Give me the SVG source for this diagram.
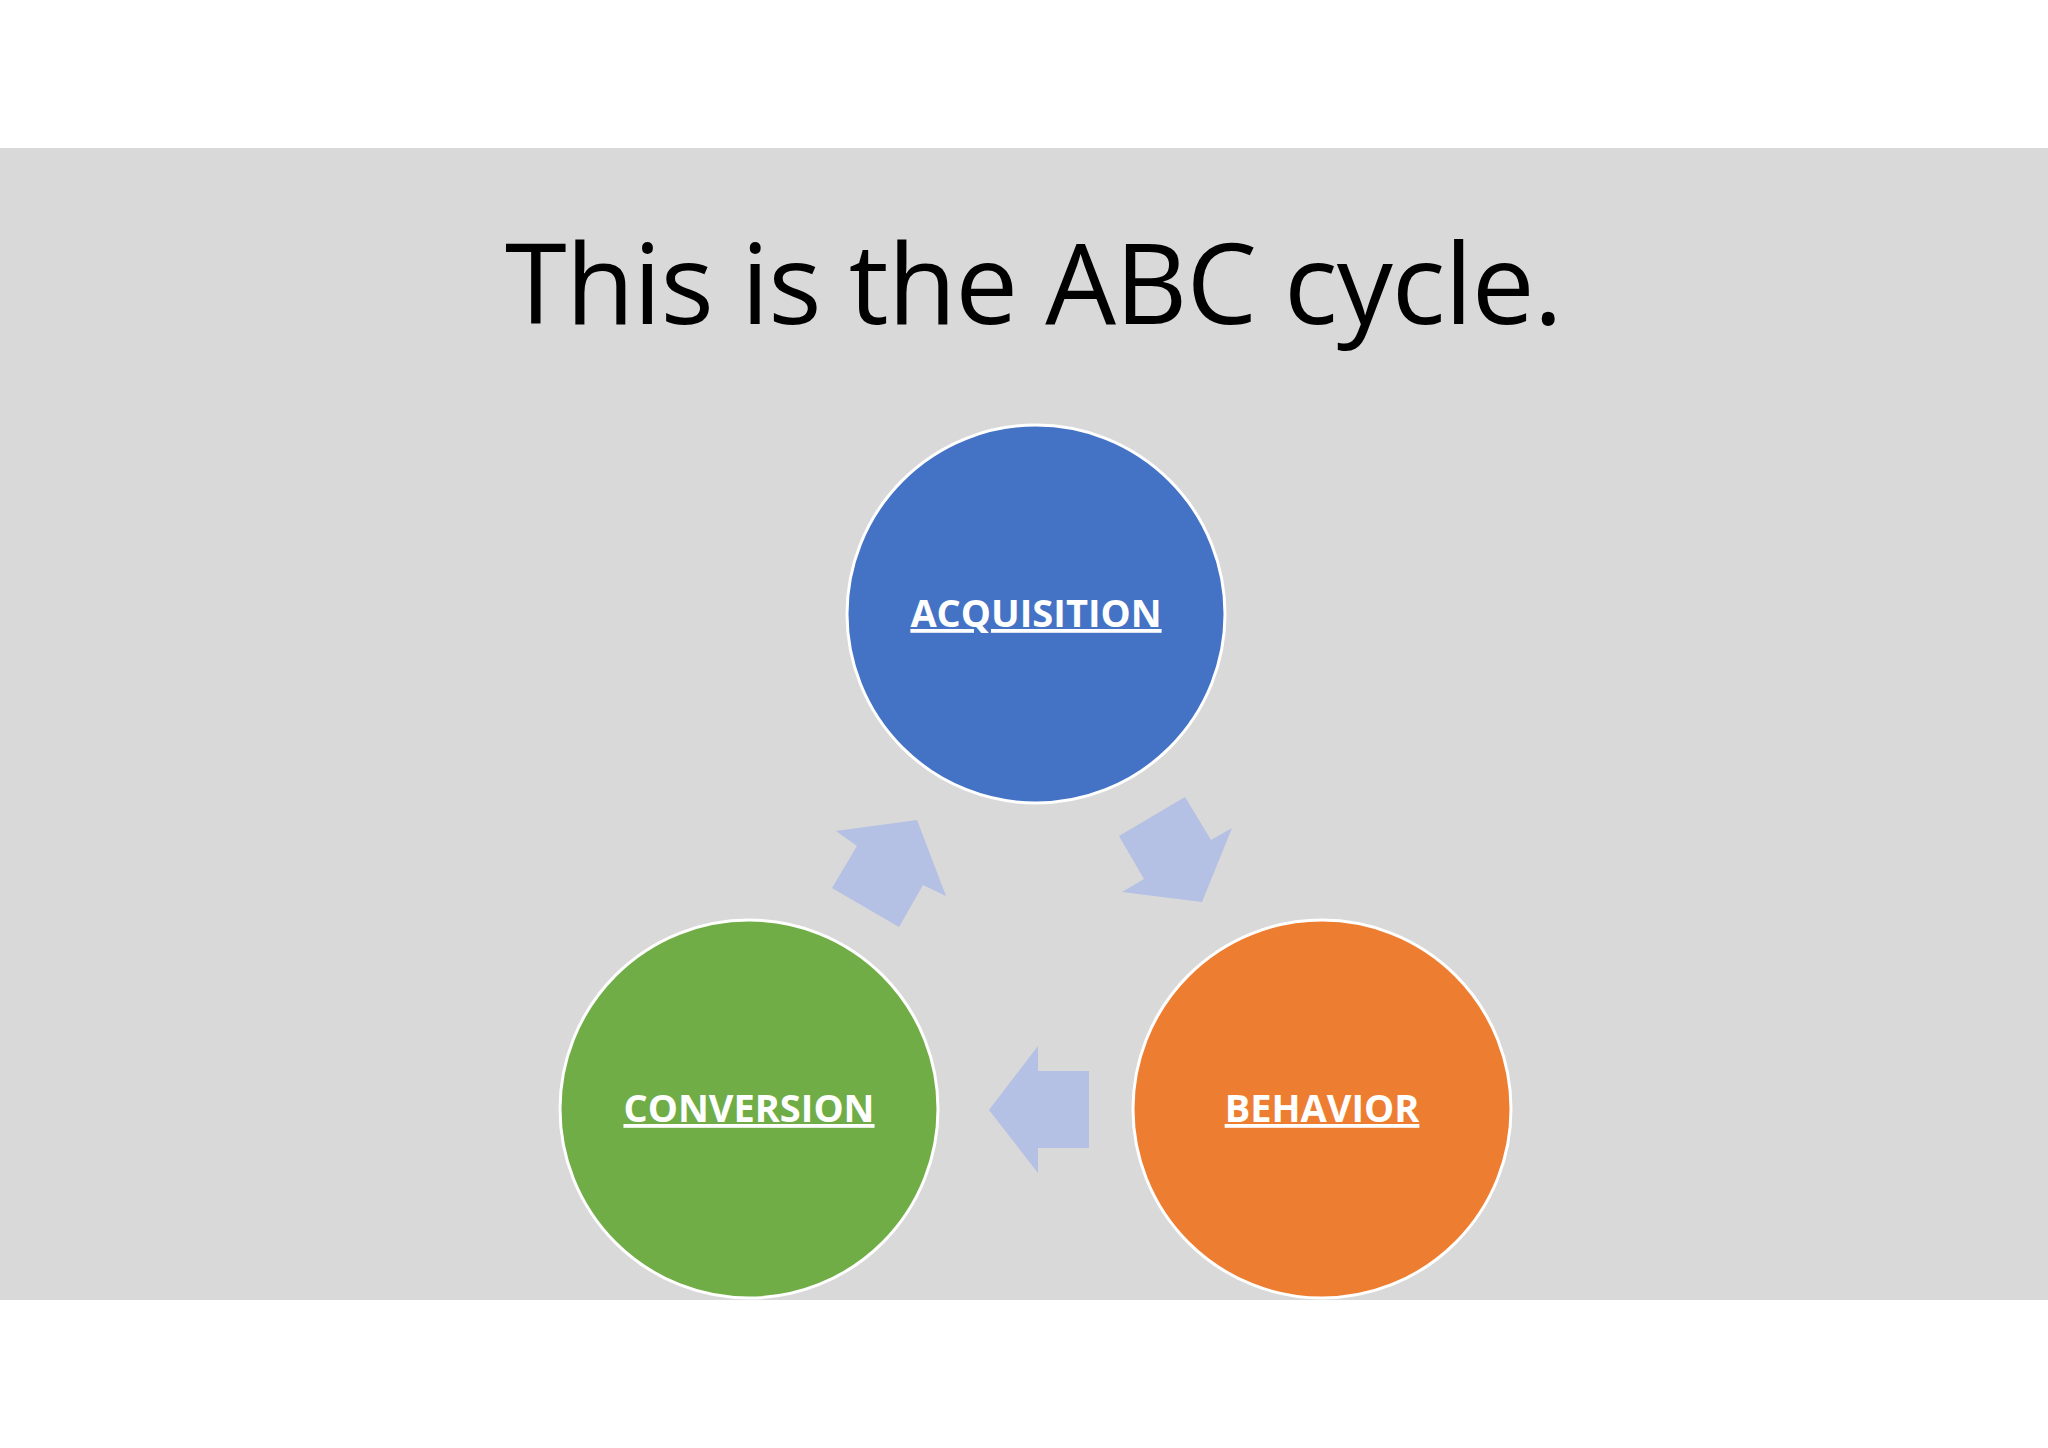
<svg xmlns="http://www.w3.org/2000/svg" width="2048" height="1448" viewBox="0 0 2048 1448">
<style>
.c{stroke:#ffffff;stroke-width:3}
.l{font-family:"Open Sans","Liberation Sans",sans-serif;font-weight:bold;font-size:38px;fill:#ffffff;text-anchor:middle;text-decoration:underline}
.a{fill:#b4c0e4}
</style>
<rect width="2048" height="1448" fill="#ffffff"/>
<rect x="0" y="148" width="2048" height="1152" fill="#d9d9d9"/>
<text x="1034" y="324" font-family="Open Sans, Liberation Sans, sans-serif" font-size="112" text-anchor="middle" fill="#000000" textLength="1058">This is the ABC cycle.</text>
<g id="connectors">
<polygon class="a" points="989,1110 1038,1046 1038,1071 1089,1071 1089,1148 1038,1148 1038,1173"/>
<polygon class="a" points="836,831 917,820 946,896 923,885 899,927 832,888 857,846"/>
<polygon class="a" points="1119,836 1185,797 1211,840 1232,828 1202,902 1122,892 1144,879"/>
</g>
<g id="acquisition"><circle class="c" cx="1036" cy="614" r="189" fill="#4472c4"/><text class="l" x="1036" y="627">ACQUISITION</text></g>
<g id="conversion"><circle class="c" cx="749" cy="1109" r="189" fill="#70ad47"/><text class="l" x="749" y="1122">CONVERSION</text></g>
<g id="behavior"><circle class="c" cx="1322" cy="1109" r="189" fill="#ed7d31"/><text class="l" x="1322" y="1122">BEHAVIOR</text></g>
</svg>
